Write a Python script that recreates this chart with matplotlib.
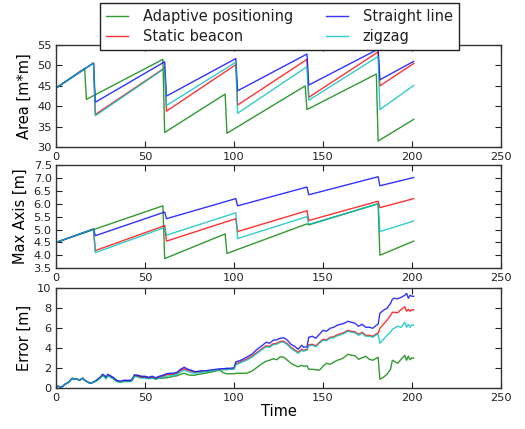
import matplotlib
matplotlib.use("Agg")
import matplotlib.pyplot as plt
from matplotlib.ticker import MultipleLocator, FormatStrFormatter

# =====================================================
# DATA
# =====================================================

labels = ["Adaptive positioning", "Static beacon", "Straight line", "zigzag"]
colors = ["g", "r", "b", "c"]

# Area [m*m]  (vertices of each sawtooth)
t_area_green = [0, 16, 17, 60, 61, 95, 96, 140, 141, 180, 181, 201]
area_green = [44.5, 49.3, 41.7, 51.5, 33.6, 43.0, 33.4, 45.0, 39.2, 47.9, 31.5, 36.8]

t_area = [0, 21, 22, 61, 62, 101, 102, 141, 142, 181, 182, 201]
area_red = [44.5, 50.6, 38.0, 49.4, 38.8, 50.2, 40.3, 51.5, 42.2, 53.3, 45.0, 50.5]
area_blue = [44.5, 50.6, 41.0, 50.9, 42.5, 51.7, 43.8, 52.8, 45.2, 54.0, 46.5, 51.0]
area_cyan = [44.5, 50.6, 37.7, 49.3, 40.2, 50.8, 38.3, 49.7, 41.5, 52.2, 39.2, 45.1]

# Max Axis [m]
t_axis_green = [0, 60, 61, 95, 96, 141, 142, 181, 182, 201]
axis_green = [4.5, 5.92, 3.87, 4.83, 4.07, 5.22, 5.18, 6.0, 4.0, 4.55]

t_axis = [0, 21, 22, 61, 62, 101, 102, 141, 142, 181, 182, 201]
axis_red = [4.5, 5.02, 4.18, 5.15, 4.55, 5.42, 4.92, 5.73, 5.35, 6.1, 5.85, 6.2]
axis_blue = [4.5, 5.02, 4.76, 5.68, 5.42, 6.2, 5.92, 6.65, 6.35, 7.05, 6.7, 7.02]
axis_cyan = [4.5, 5.02, 4.1, 5.08, 4.78, 5.65, 4.65, 5.5, 5.2, 6.0, 4.92, 5.33]

# Error [m]
t_err_early = [0, 1, 3, 5, 7, 9, 10, 12, 13, 15, 16, 18, 19, 21]
err_early = [0.1, 0.2, 0.1, 0.4, 0.6, 1.0, 0.9, 0.9, 0.8, 1.0, 0.8, 0.6, 0.5, 0.6]

t_err_late = [23, 25, 26, 27, 28, 29, 30, 32, 34, 36, 38, 42, 43, 44, 46, 48, 50,
              52, 54, 56, 58, 60, 62, 64, 66, 68, 70, 72, 74, 76, 78, 80, 82, 84,
              86, 88, 90, 92, 94, 96, 98, 100, 101, 103, 105, 107, 110, 113, 116,
              118, 120, 122, 124, 126, 128, 130, 132, 134, 136, 138, 139, 141, 142,
              144, 146, 148, 150, 152, 154, 156, 158, 160, 162, 164, 166, 168, 170,
              172, 174, 176, 178, 180, 181, 182, 184, 186, 188, 189, 190, 192, 194,
              196, 197, 198, 199, 200, 201]

err_green = [0.8, 1.1, 1.3, 1.2, 1.0, 1.3, 1.2, 1.0, 0.7, 0.65, 0.7, 0.7, 0.9, 1.25,
             1.2, 1.1, 1.1, 1.0, 1.05, 0.95, 1.0, 1.0, 1.05, 1.1, 1.2, 1.25, 1.4, 1.5,
             1.35, 1.3, 1.3, 1.4, 1.45, 1.5, 1.6, 1.65, 1.75, 1.8, 1.55, 1.45, 1.45,
             1.45, 1.5, 1.5, 1.5, 1.5, 1.7, 2.1, 2.5, 2.7, 2.8, 2.95, 2.85, 3.15, 3.1,
             2.8, 2.5, 2.3, 2.15, 2.3, 2.2, 2.25, 1.9, 1.9, 1.85, 1.8, 2.2, 2.5, 2.4,
             2.6, 2.8, 2.9, 3.1, 3.4, 3.3, 3.25, 2.9, 3.05, 3.2, 2.9, 2.8, 3.0, 3.1,
             0.9, 1.1, 1.4, 1.9, 2.8, 2.7, 2.5, 2.9, 3.3, 2.8, 3.2, 2.85, 3.05, 3.0]

err_red = [0.8, 1.1, 1.3, 1.2, 1.0, 1.3, 1.2, 1.0, 0.7, 0.65, 0.7, 0.7, 0.9, 1.25,
           1.2, 1.1, 1.1, 1.0, 1.1, 0.95, 1.1, 1.2, 1.35, 1.4, 1.4, 1.5, 1.8, 1.95,
           1.8, 1.7, 1.6, 1.65, 1.7, 1.7, 1.75, 1.8, 1.85, 1.85, 1.9, 1.9, 1.95,
           1.95, 2.45, 2.6, 2.75, 2.9, 3.2, 3.6, 4.0, 4.25, 4.2, 4.45, 4.5, 4.7, 4.7,
           4.45, 4.1, 3.85, 3.6, 3.9, 3.8, 3.9, 4.35, 4.4, 4.25, 4.6, 4.9, 4.85, 5.1,
           5.15, 5.35, 5.45, 5.6, 5.8, 5.7, 5.65, 5.4, 5.6, 5.3, 5.3, 5.2, 5.45, 5.5,
           6.0, 6.4, 6.8, 7.3, 7.6, 7.6, 7.55, 7.9, 8.15, 7.7, 7.9, 7.7, 7.85, 7.85]

err_blue = [0.85, 1.15, 1.4, 1.3, 1.1, 1.4, 1.3, 1.1, 0.8, 0.7, 0.8, 0.8, 1.0, 1.35,
            1.3, 1.2, 1.2, 1.1, 1.2, 1.05, 1.2, 1.3, 1.45, 1.5, 1.5, 1.6, 1.9, 2.1,
            1.9, 1.8, 1.65, 1.7, 1.75, 1.75, 1.8, 1.85, 1.9, 1.95, 1.95, 2.0, 2.0,
            2.05, 2.65, 2.75, 2.9, 3.1, 3.4, 3.9, 4.3, 4.6, 4.5, 4.8, 4.85, 5.0, 5.05,
            4.8, 4.4, 4.2, 3.9, 4.3, 4.1, 4.15, 5.1, 5.2, 5.0, 5.4, 5.8, 5.7, 6.0,
            6.1, 6.3, 6.4, 6.5, 6.7, 6.6, 6.5, 6.2, 6.4, 6.1, 6.1, 6.0, 6.3, 6.4,
            7.5, 7.8, 8.0, 8.5, 8.9, 9.0, 8.95, 9.1, 9.3, 9.5, 9.0, 9.3, 9.2, 9.2]

err_cyan = [0.75, 1.05, 1.25, 1.15, 0.95, 1.25, 1.15, 0.95, 0.65, 0.6, 0.65, 0.65,
            0.85, 1.2, 1.1, 1.0, 1.0, 0.95, 1.0, 0.9, 1.0, 1.1, 1.2, 1.25, 1.3, 1.4,
            1.65, 1.8, 1.65, 1.55, 1.5, 1.55, 1.6, 1.65, 1.7, 1.75, 1.8, 1.8, 1.85,
            1.85, 1.9, 1.9, 2.35, 2.5, 2.65, 2.8, 3.1, 3.5, 3.9, 4.15, 4.1, 4.35, 4.4,
            4.6, 4.6, 4.35, 4.0, 3.75, 3.5, 3.8, 3.7, 3.8, 4.25, 4.3, 4.15, 4.5, 4.8,
            4.75, 5.0, 5.05, 5.25, 5.35, 5.5, 5.7, 5.6, 5.55, 5.3, 5.5, 5.2, 5.2, 5.1,
            5.35, 5.4, 4.5, 4.9, 5.3, 5.6, 5.9, 6.0, 6.2, 6.1, 6.6, 6.1, 6.4, 6.1,
            6.35, 6.3]

t_err = t_err_early + t_err_late

# =====================================================
# FIGURE
# =====================================================

plt.rcParams["font.family"] = "DejaVu Sans"
plt.rcParams["text.color"] = "#222222"

fig = plt.figure(figsize=(5.25, 4.29), dpi=100)
ax1 = fig.add_axes([0.107, 0.657, 0.847, 0.238])
ax2 = fig.add_axes([0.107, 0.375, 0.847, 0.240])
ax3 = fig.add_axes([0.107, 0.095, 0.847, 0.233])

kw = dict(lw=1.0, alpha=0.8)

ax1.plot(t_area_green, area_green, color=colors[0], label=labels[0], **kw)
ax1.plot(t_area, area_red, color=colors[1], label=labels[1], **kw)
ax1.plot(t_area, area_blue, color=colors[2], label=labels[2], **kw)
ax1.plot(t_area, area_cyan, color=colors[3], label=labels[3], **kw)

ax2.plot(t_axis_green, axis_green, color=colors[0], **kw)
ax2.plot(t_axis, axis_red, color=colors[1], **kw)
ax2.plot(t_axis, axis_blue, color=colors[2], **kw)
ax2.plot(t_axis, axis_cyan, color=colors[3], **kw)

ax3.plot(t_err, err_early + err_green, color=colors[0], **kw)
ax3.plot(t_err, err_early + err_red, color=colors[1], **kw)
ax3.plot(t_err, err_early + err_blue, color=colors[2], **kw)
ax3.plot(t_err, err_early + err_cyan, color=colors[3], **kw)

ax1.set_ylim(30, 55)
ax1.yaxis.set_major_locator(MultipleLocator(5))
ax1.set_ylabel("Area [m*m]", fontsize=10.5)

ax2.set_ylim(3.5, 7.5)
ax2.yaxis.set_major_locator(MultipleLocator(0.5))
ax2.yaxis.set_major_formatter(FormatStrFormatter("%.1f"))
ax2.set_ylabel("Max Axis [m]", fontsize=10.5)

ax3.set_ylim(0, 10)
ax3.yaxis.set_major_locator(MultipleLocator(2))
ax3.set_ylabel("Error [m]", fontsize=10.5)
ax3.set_xlabel("Time", fontsize=10.5, labelpad=1)

for ax in (ax1, ax2, ax3):
    ax.set_xlim(0, 250)
    ax.xaxis.set_major_locator(MultipleLocator(50))
    ax.tick_params(direction="in", top=True, right=True, length=4,
                   labelsize=8.2, pad=3.2, colors="#222222")
    for sp in ax.spines.values():
        sp.set_color("#333333")
        sp.set_linewidth(1.0)

leg = ax1.legend(loc="upper center", bbox_to_anchor=(0.502, 1.41), ncol=2,
                 fontsize=10.5, fancybox=False, framealpha=1,
                 edgecolor="#222222", handlelength=1.5, handletextpad=1.0,
                 columnspacing=2.3, borderpad=0.4, labelspacing=0.35,
                 borderaxespad=0)
leg.get_frame().set_linewidth(1.0)

fig.savefig("out.png", dpi=100, facecolor="white")
